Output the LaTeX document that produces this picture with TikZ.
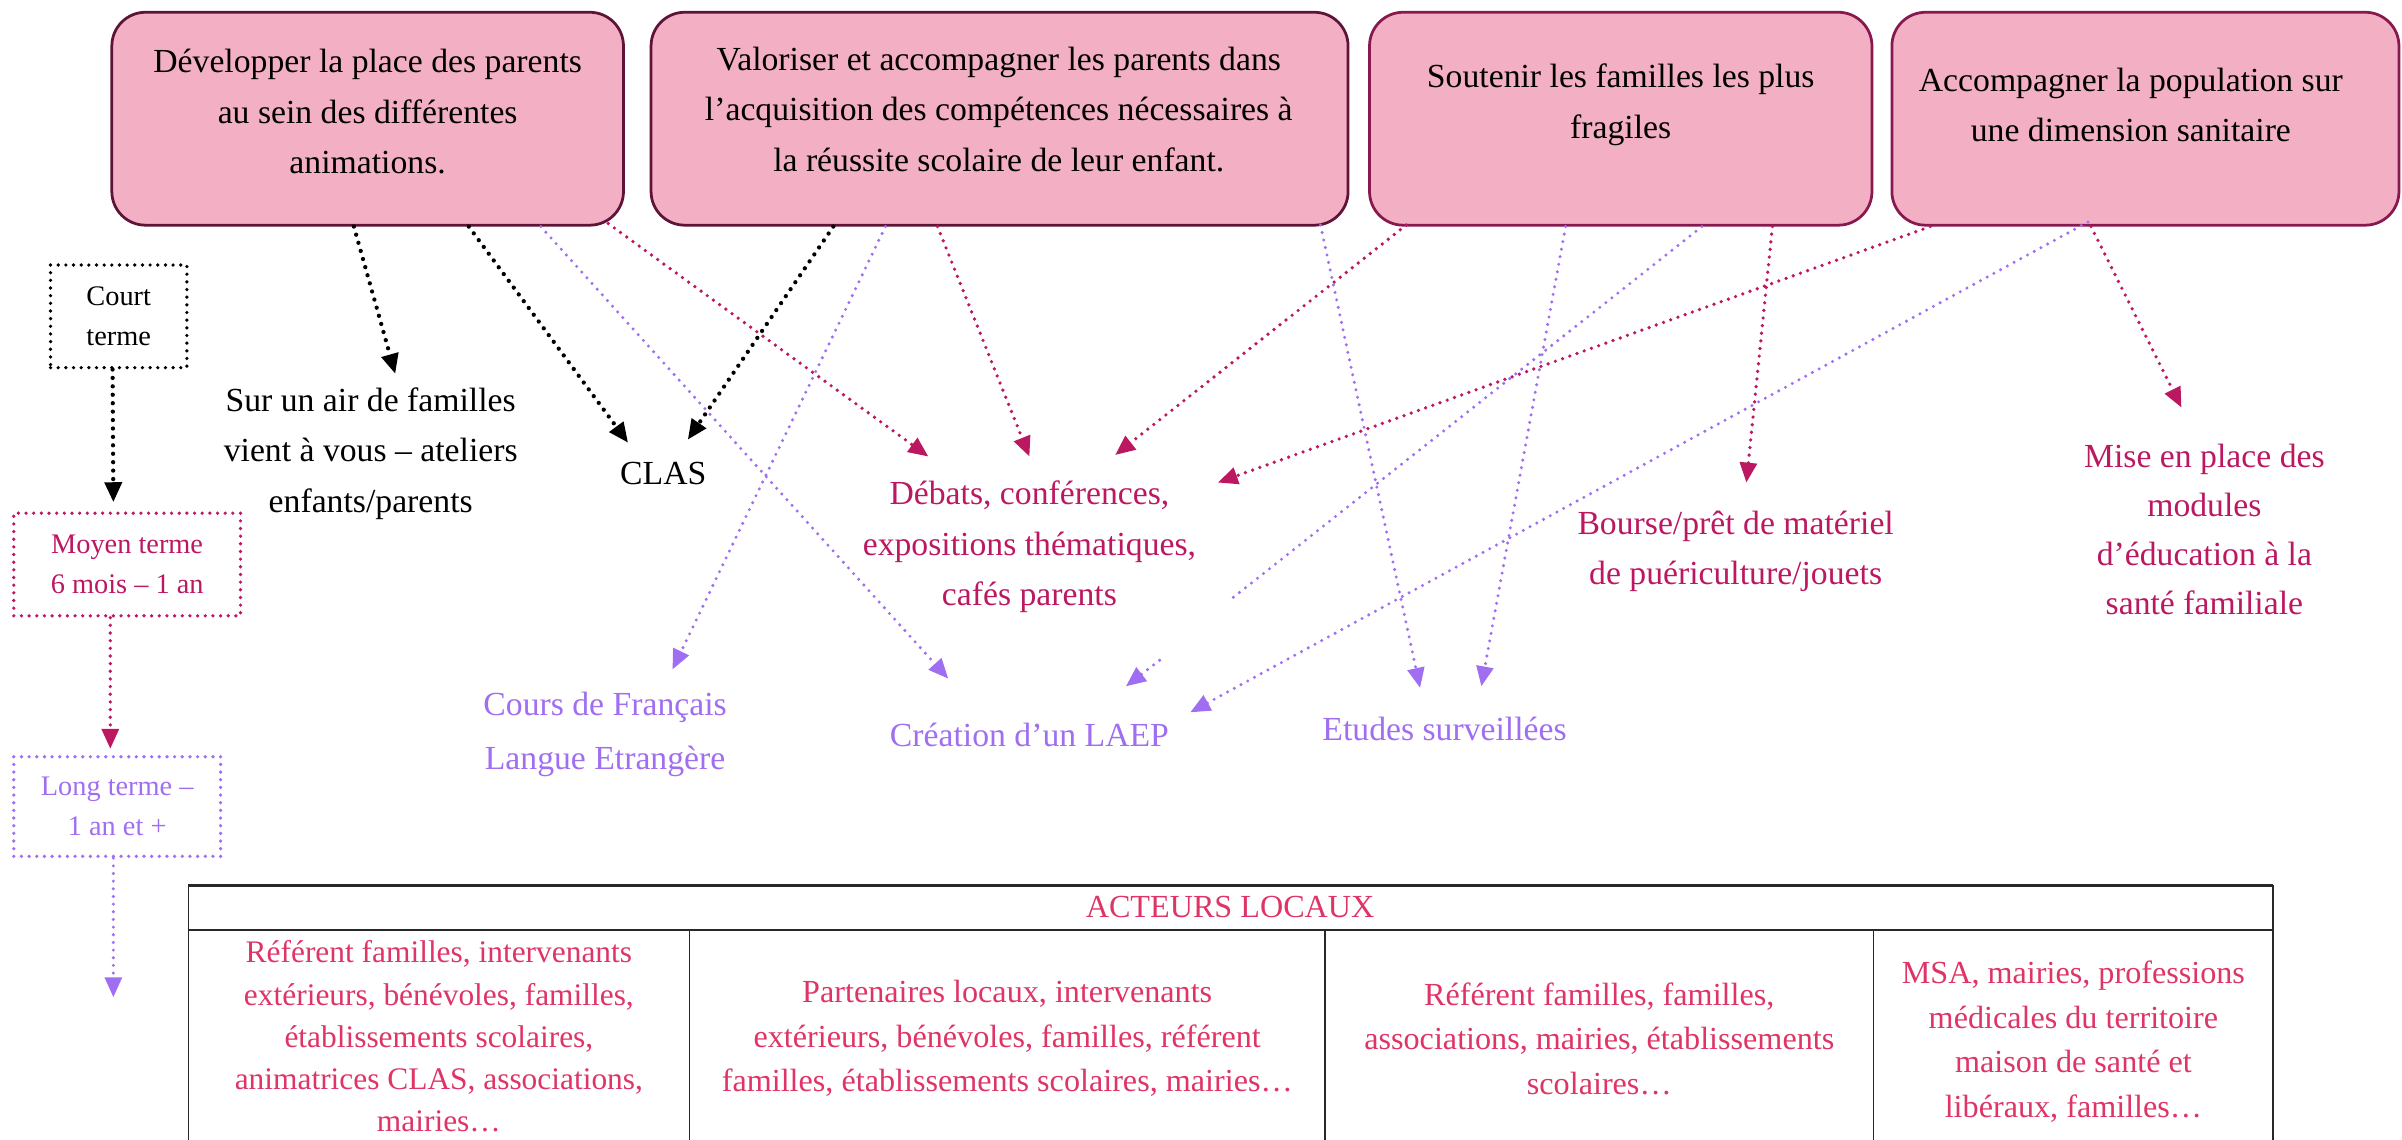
\documentclass[tikz,border=0pt]{standalone}
\usepackage{fontspec}
\setmainfont{Liberation Serif}
\usetikzlibrary{arrows.meta}
\definecolor{mag}{RGB}{188,24,98}
\definecolor{lav}{RGB}{160,110,240}
\definecolor{tabred}{RGB}{222,52,102}
\definecolor{boxpink}{RGB}{243,176,197}
\definecolor{bordA}{RGB}{95,20,55}
\definecolor{bordB}{RGB}{135,25,78}
\definecolor{tabline}{RGB}{40,40,40}
\begin{document}
\begin{tikzpicture}[x=1pt,y=-1pt,
  goal/.style={draw=bordA, fill=boxpink, line width=1.8pt, rounded corners=22pt, minimum height=139pt, inner sep=0pt},
  txt/.style={align=center, font=\fontsize{22}{33}\selectfont, inner sep=0pt},
  small/.style={align=center, font=\fontsize{18.5}{26}\selectfont, inner sep=0pt, line width=2.4pt, dash pattern=on 0pt off 5pt, line cap=round},
  tabtxt/.style={align=center, font=\fontsize{21}{29}\selectfont, inner sep=0pt, text=tabred},
  dotl/.style={line width=2.4pt, dash pattern=on 0pt off 5pt, line cap=round},
  arr/.style={dotl, -{Triangle[length=13pt,width=11pt]}},
  blk/.style={arr, black, line width=2.8pt, dash pattern=on 0pt off 5.5pt},
  magarr/.style={arr, mag},
  lavarr/.style={arr, lav, line width=2.2pt},
  lavl/.style={dotl, lav, line width=2.2pt}
]
\useasboundingbox (0,0) rectangle (1568,744);

% goal boxes
\node[goal, minimum width=334pt] (b1) at (240,77.5) {};
\node[goal, minimum width=455pt] (b2) at (652.5,77.5) {};
\node[goal, draw=bordB, minimum width=328pt] (b3) at (1058,77.5) {};
\node[goal, draw=bordB, minimum width=331pt] (b4) at (1400.5,77.5) {};
\node[txt] (b1t) at (240,73) {Développer la place des parents\\au sein des différentes\\animations.};
\node[txt] (b2t) at (652,71.5) {Valoriser et accompagner les parents dans\\l’acquisition des compétences nécessaires à\\la réussite scolaire de leur enfant.};
\node[txt] (b3t) at (1058,68.5) {Soutenir les familles les plus\\fragiles};
\node[txt] (b4t) at (1391,68.5) {Accompagner la population sur\\une dimension sanitaire};

% actions
\node[txt] (sur) at (242,296) {Sur un air de familles\\vient à vous – ateliers\\enfants/parents};
\node[txt] (clas) at (433,309) {CLAS};
\node[txt, text=mag] (deb) at (672,357) {Débats, conférences,\\expositions thématiques,\\cafés parents};
\node[txt, text=mag] (bourse) at (1133,360) {Bourse/prêt de matériel\\de puériculture/jouets};
\node[txt, text=mag, font=\fontsize{22}{32}\selectfont] (mise) at (1439,345.5) {Mise en place des\\modules\\d’éducation à la\\santé familiale};
\node[txt, text=lav, font=\fontsize{22}{35}\selectfont] (cours) at (395,479.5) {Cours de Français\\Langue Etrangère};
\node[txt, text=lav] (laep) at (672,480) {Création d’un LAEP};
\node[txt, text=lav] (etudes) at (943,476) {Etudes surveillées};

% arrow end points
\coordinate (e1) at (258,244);
\coordinate (e2) at (410,289);
\coordinate (e3) at (449,287);
\coordinate (e4) at (619,443);
\coordinate (e5) at (606,298);
\coordinate (e6) at (439,437);
\coordinate (e7) at (672,298);
\coordinate (e8) at (927,449);
\coordinate (e9) at (728,297);
\coordinate (e10) at (967,448);
\coordinate (g1) at (805,390);
\coordinate (g2) at (757,431);
\coordinate (e11) at (735,448);
\coordinate (e12) at (1140,315);
\coordinate (e13) at (795,315);
\coordinate (e14) at (777,465);
\coordinate (e15) at (1424,266);

\draw[blk] ([xshift=-9pt]b1.south) -- (e1);
\draw[blk] ([xshift=66pt]b1.south) -- (e2);
\draw[blk] ([xshift=-108.5pt]b2.south) -- (e3);
\draw[lavarr] ([xshift=113pt]b1.south) -- (e4);
\draw[magarr] ([xshift=157pt,yshift=2pt]b1.south) -- (e5);
\draw[lavarr] ([xshift=-74.5pt]b2.south) -- (e6);
\draw[magarr] ([xshift=-40.5pt]b2.south) -- (e7);
\draw[lavarr] ([xshift=209.5pt,yshift=1pt]b2.south) -- (e8);
\draw[magarr] ([xshift=-140pt,yshift=1pt]b3.south) -- (e9);
\draw[lavarr] ([xshift=-36pt]b3.south) -- (e10);
\draw[lavl] ([xshift=53pt]b3.south) -- (g1);
\draw[lavarr] (g2) -- (e11);
\draw[magarr] ([xshift=99pt]b3.south) -- (e12);
\draw[magarr] ([xshift=-140.5pt]b4.south) -- (e13);
\draw[lavarr] ([xshift=-37.5pt,yshift=3pt]b4.south) -- (e14);
\draw[magarr] ([xshift=-35.5pt]b4.south) -- (e15);

% time scale
\node[small, draw=black, minimum width=89pt, minimum height=67pt] (court) at (77.5,206.5) {Court\\terme};
\node[small, draw=mag, text=mag, minimum width=148pt, minimum height=67pt] (moyen) at (83,368.5) {Moyen terme\\6 mois – 1 an};
\node[small, draw=lav, text=lav, minimum width=135pt, minimum height=65pt] (long) at (76.5,526.5) {Long terme –\\1 an et +};
\coordinate (eL) at (74,651);
\draw[blk] ([xshift=-4pt]court.south) -- ([xshift=-9pt,yshift=6pt]moyen.north);
\draw[magarr] ([xshift=-11pt]moyen.south) -- ([xshift=-4.5pt,yshift=4pt]long.north);
\draw[lavarr] ([xshift=-2.5pt]long.south) -- (eL);

% table
\draw[tabline, line width=1.2pt] (123,744) -- (123,578) -- (1484,578) -- (1484,744);
\draw[tabline, line width=1.6pt] (123,578) -- (1484,578);
\draw[tabline, line width=1.6pt] (123,607) -- (1484,607);
\draw[tabline, line width=1.1pt] (450,607) -- (450,744);
\draw[tabline, line width=1.1pt] (865,607) -- (865,744);
\draw[tabline, line width=1.1pt] (1223,607) -- (1223,744);
\node[tabtxt] (head) at (803,592) {ACTEURS LOCAUX};
\node[tabtxt, font=\fontsize{20.5}{27.5}\selectfont] (c1) at (286.5,676.5) {Référent familles, intervenants\\extérieurs, bénévoles, familles,\\établissements scolaires,\\animatrices CLAS, associations,\\mairies…};
\node[tabtxt] (c2) at (657.5,678) {Partenaires locaux, intervenants\\extérieurs, bénévoles, familles, référent\\familles, établissements scolaires, mairies…};
\node[tabtxt] (c3) at (1044,678) {Référent familles, familles,\\associations, mairies, établissements\\scolaires…};
\node[tabtxt] (c4) at (1353.5,680) {MSA, mairies, professions\\médicales du territoire\\maison de santé et\\libéraux, familles…};
\end{tikzpicture}
\end{document}
